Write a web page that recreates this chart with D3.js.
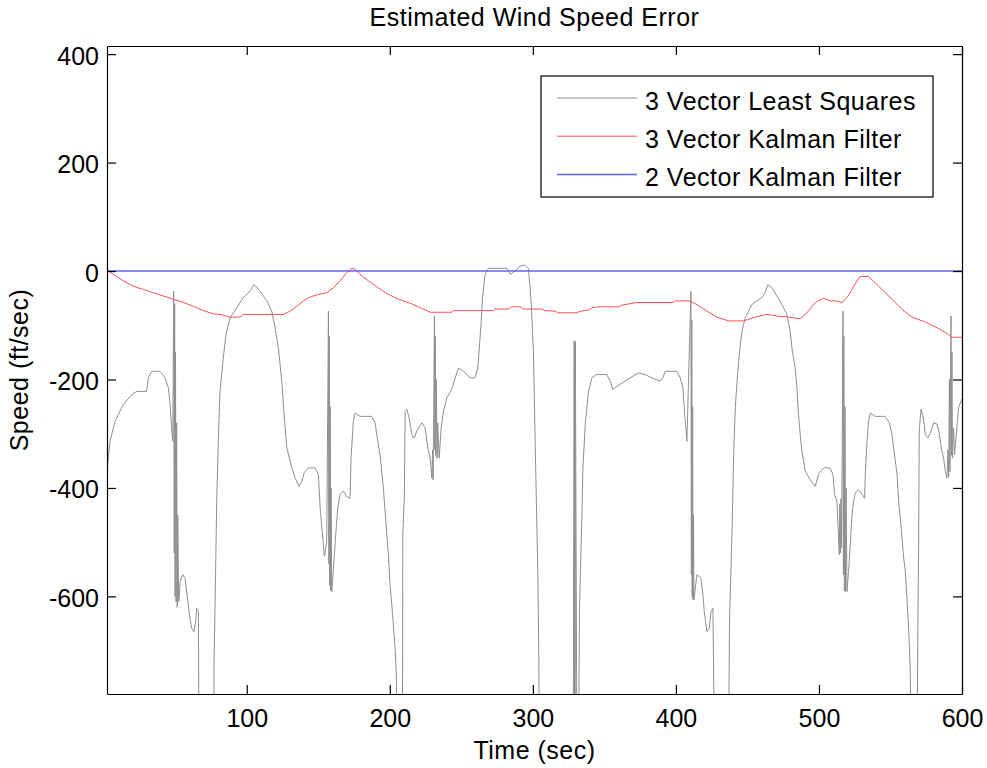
<!DOCTYPE html>
<html lang="en">
  <head>
    <meta charset="utf-8">
    <title>Estimated Wind Speed Error</title>
    <script src="https://cdnjs.cloudflare.com/ajax/libs/d3/7.8.5/d3.min.js"></script>
    <style>
      body {
        margin: 0;
        background: #fff;
      }

      svg {
        font-family: "Liberation Sans", Arial, sans-serif;
      }

      .axis path,
      .axis line {
        fill: none;
        stroke: #000;
        stroke-width: 1.2;
      }

      .axis text {
        font-size: 25px;
        fill: #000;
      }

      .label {
        letter-spacing: 0.5px;
      }
    </style>
  </head>

  <body>
    <script>

      // 3 Vector Least Squares (values below -780 are off the axis)
      var lsTime = [2.5, 4.4, 7.9, 13.7, 19.6, 23, 30, 31.2, 33.5, 39.4, 42.9, 45.2, 46.4, 47.6, 48.3,
        48.9, 49.3, 49.6, 49.9, 50.2, 50.6, 51, 51.4, 51.8, 52.4,
        52.7, 53.4, 55.2, 56.9, 58.5, 60.3, 61.5, 63.1, 64.3, 65, 66.2, 66.6,
        77, 77.1, 78.1, 79, 80.1, 81.3, 83.6, 85.5, 88.3, 93, 97.6, 102.3, 105.1, 109.3, 114, 117.5,
        119.8, 122.1, 124.5, 126.1, 128, 131.5, 133.8, 136.6, 138.5, 140.1, 143.1, 147.8, 150.1,
        151.3, 152.9, 154.3, 155.9,
        157.1, 157.4, 157.7, 158, 158.3, 158.7, 159, 159.4,
        160.6, 162.2, 163.6, 165.2, 167.6, 169.9, 172.2, 172.9, 174.5, 175.7, 179.2, 187.4, 189.7,
        191.6, 193.2, 195.5, 197.2, 199, 200.2, 201.8, 203.7, 204.6, 205.1,
        208.8, 209.1, 210.2, 210.7, 211.9, 213.5, 215.4, 217, 218.9, 222.4, 224.7, 226.6, 228.2, 229.4,
        229.9, 230.3, 231.2, 231.5, 231.8, 232.1, 232.5, 233, 233.5, 234.5,
        235.9, 237.5, 239.9, 243.4, 245.7, 248, 251.5, 256.2, 259.6, 261.5, 262.4, 263.6, 264.8,
        266.6, 269, 281.8, 284.1, 287.6, 291.1, 294.1, 296.9, 298.8, 300.4, 301.6, 303.5, 304.3, 304.6,
        328.2, 328.9, 329.1, 329.3, 329.5, 329.7, 330.8,
        331.9, 332.6, 334.3, 335, 336.6, 338.9, 341.3, 344.3, 351.7, 354.1, 355.9, 361, 368, 373.8,
        378.5, 383.2, 389, 390.9, 392.5, 400.7, 403, 404.9, 405.8, 406.7, 407.7,
        410.5, 410.8, 411.1, 411.4, 411.7, 412, 412.3, 412.6,
        414.7, 417.5, 418.9, 419.8, 421.7, 423.3, 424.5, 425.9, 427,
        436.8, 437.5, 439.2, 440.3, 441.5, 443.1, 444.5, 446.2, 448.5, 450.8, 453.1, 456.6, 460.1,
        462.4, 464.3, 467.1, 470.6, 474.1, 477.6, 479.9, 481.1, 483.4, 484.6, 485.7, 486.9, 488.1,
        490.4, 493.9, 497.4, 499.7, 502.1, 504.4, 507.9, 509.8, 510.9, 512.6, 513.3, 514.2,
        514.6, 515, 515.4, 515.8, 516.1,
        516.8, 517.1, 517.4, 517.8, 518.2, 518.6, 519, 519.6,
        520.7, 521.9, 523.1, 524.2, 525.4, 527.7, 530.1, 531.9, 532.4, 533.6, 534.7, 535.9, 539.4,
        546.4, 549.2, 551.1, 552.2, 554.6, 555.7, 556.9, 558.1, 559.2, 560.4, 561.5, 562.7, 563.8, 564.5,
        568.5, 569.2, 569.7, 570.1, 571.3, 572.5, 573.6, 574.3, 576.2, 578.5, 580.1, 582.5, 584.1,
        585.5, 587.1, 588.3, 589.5,
        590.2, 590.7, 591.2, 591.6, 592.3, 592.6, 593, 593.3,
        594.1, 594.8, 596, 597.6, 600];
      var lsSpeed = [-363, -314, -277, -246, -228, -222, -222, -197, -185, -185, -197, -215, -246, -295, -314,
        -37, -520, -60, -600, -150, -610, -280, -620, -450, -610,
        -606, -573, -560, -566, -603, -640, -659, -665, -646, -622, -628, -900,
        -900, -726, -573, -425, -314, -222, -160, -117, -86, -68, -49, -37, -25, -37, -55, -74,
        -105, -142, -203, -265, -326, -363, -382, -397, -388, -372, -363, -363, -375,
        -437, -486, -526, -499,
        -74, -540, -120, -580, -250, -590, -400, -591,
        -548, -486, -437, -412, -406, -416, -419, -345, -277, -262, -268, -268, -280,
        -314, -339, -400, -462, -523, -579, -628, -696, -745, -900,
        -900, -486, -412, -259, -255, -271, -302, -308, -295, -280, -289, -326, -345, -382,
        -330, -385, -83, -330, -120, -340, -200, -345, -280, -345,
        -289, -259, -234, -218, -197, -179, -185, -197, -197, -179, -148, -105, -49,
        -6, 5, 5, -6, 0, 9, 11, 5, -55, -148, -314, -560, -744, -900,
        -900, -129, -900, -129, -900, -129, -900,
        -900, -622, -449, -363, -283, -222, -197, -191, -191, -203, -218, -209, -197, -188,
        -191, -197, -203, -197, -185, -185, -197, -215, -252, -283, -314,
        -37, -560, -90, -600, -250, -606, -450, -606,
        -560, -566, -597, -628, -665, -659, -628, -622, -900,
        -900, -640, -486, -345, -252, -191, -148, -111, -86, -74, -62, -55, -49,
        -40, -25, -31, -46, -62, -80, -111, -142, -179, -215, -265, -302, -332,
        -369, -385, -397, -375, -366, -362, -364, -375, -412, -425, -468, -523,
        -430, -520, -420, -510, -400,
        -74, -560, -120, -590, -250, -591, -400, -591,
        -554, -505, -449, -425, -409, -403, -412, -419, -375, -314, -277, -262, -268,
        -268, -280, -302, -326, -375, -425, -456, -493, -529, -554, -603, -659, -733, -900,
        -900, -640, -499, -295, -255, -265, -283, -302, -308, -295, -280, -282, -299,
        -326, -345, -369, -382,
        -330, -380, -200, -370, -83, -340, -150, -345,
        -289, -339, -302, -252, -236];

      // 3 Vector Kalman Filter
      var kf3Time = [2.3, 6.7, 13.7, 20.7, 27.7, 34.7, 41.7, 48.7, 55.7, 62.7, 69.7, 76.6, 81.3, 88.3,
        95.3, 97.6, 104.6, 125.6, 130.3, 135, 139.6, 144.3, 150.1, 155.9, 160.6, 165.2, 169.9, 173.4,
        175.7, 179.2, 185, 192, 199, 206, 213, 220, 228.2, 243.4, 244.5, 272.4, 273.6, 282.9, 285.3,
        291.1, 293.4, 306.3, 308.6, 315.6, 317.2, 330.8, 333.1, 338.9, 341.3, 345.9, 359.9, 362.2,
        372.7, 398.3, 399.5, 409.5, 414.7, 421.7, 428.7, 436.8, 447.3, 455.5, 463.6, 470.6, 478.7,
        486.9, 491.6, 497.4, 503.2, 507.9, 511.4, 516.1, 519.6, 523.1, 526.6, 528.9, 534.7, 540.6,
        546.4, 551.1, 558.1, 565, 574.3, 583.6, 590.6, 593, 600];
      var kf3Speed = [2, -6, -18, -28, -34, -40, -46, -52, -58, -65, -73, -79, -80, -85,
        -85, -80, -80, -80, -74, -65, -55, -48, -43, -40, -31, -18, -3, 5,
        3, -6, -18, -31, -43, -52, -58, -66, -76, -76, -73, -73, -70, -70, -66,
        -66, -70, -70, -73, -74, -77, -77, -74, -72, -68, -66, -66, -63,
        -58, -58, -55, -55, -62, -74, -85, -92, -92, -85, -80, -83, -85,
        -88, -77, -58, -50, -55, -55, -58, -49, -34, -18, -10, -10, -25,
        -40, -52, -71, -85, -94, -106, -117, -122, -122];

      // 2 Vector Kalman Filter
      var kf2Time = [2.3, 600];
      var kf2Speed = [0, 0];

      var seriesNames = ["3 Vector Least Squares", "3 Vector Kalman Filter", "2 Vector Kalman Filter"];
      var seriesColors = ["#8f8f8f", "#ff4d4d", "#6464ff"];

      var xTicks = [100, 200, 300, 400, 500, 600];
      var yTicks = [-600, -400, -200, 0, 200, 400];

      //Width and height
      var margin = {top: 46, right: 25, bottom: 74, left: 107},
      w = 987 - margin.left - margin.right,
      h = 768 - margin.top - margin.bottom;

      //Create scale functions
      var xScale = d3.scaleLinear()
                 .domain([2.3, 600])
                 .range([0, w]);

      var yScale = d3.scaleLinear()
                 .domain([-780, 415])
                 .range([h, 0]);

      var svg = d3.select("body")
            .append("svg")
            .attr("width", w + margin.left + margin.right)
            .attr("height", h + margin.top + margin.bottom);

      svg.append("rect")
        .attr("width", 987)
        .attr("height", 768)
        .attr("fill", "#fff");

      var g = svg.append("g")
        .attr("transform", "translate(" + margin.left + "," + margin.top + ")");

      g.append("clipPath")
        .attr("id", "plotclip")
        .append("rect")
        .attr("width", w)
        .attr("height", h);

      var line = d3.line()
        .x(function(d) { return xScale(d[0]); })
        .y(function(d) { return yScale(d[1]); });

      var series = [
        d3.zip(lsTime, lsSpeed),
        d3.zip(kf3Time, kf3Speed),
        d3.zip(kf2Time, kf2Speed)
      ];

      //Draw the lines
      g.append("g")
        .attr("clip-path", "url(#plotclip)")
        .selectAll("path")
        .data(series)
        .enter()
        .append("path")
        .attr("d", line)
        .attr("fill", "none")
        .attr("stroke", function(d, i) { return seriesColors[i]; })
        .attr("stroke-width", function(d, i) { return i == 2 ? 1.5 : 1; })
        .attr("stroke-linejoin", "round");

      // plain hyphen for negative numbers, like the original
      var plain = function(d) { return String(d); };

      //Axes, ticks pointing inward
      g.append("g")
        .attr("class", "axis")
        .attr("transform", "translate(0," + h + ")")
        .call(d3.axisBottom(xScale).tickValues(xTicks).tickFormat(plain)
          .tickSizeInner(-9).tickSizeOuter(0).tickPadding(15));

      g.append("g")
        .attr("class", "axis")
        .call(d3.axisLeft(yScale).tickValues(yTicks).tickFormat(plain)
          .tickSizeInner(-9).tickSizeOuter(0).tickPadding(8))
        .selectAll("text")
        .attr("dy", "0.4em");

      g.append("g")
        .attr("class", "axis")
        .call(d3.axisTop(xScale).tickValues(xTicks).tickSizeInner(-9).tickSizeOuter(0).tickFormat(""));

      g.append("g")
        .attr("class", "axis")
        .attr("transform", "translate(" + w + ",0)")
        .call(d3.axisRight(yScale).tickValues(yTicks).tickSizeInner(-9).tickSizeOuter(0).tickFormat(""));

      //Title and labels
      svg.append("text")
        .attr("class", "label")
        .attr("x", margin.left + w / 2)
        .attr("y", 26)
        .attr("text-anchor", "middle")
        .attr("font-size", "25px")
        .text("Estimated Wind Speed Error");

      svg.append("text")
        .attr("class", "label")
        .attr("x", margin.left + w / 2)
        .attr("y", 759)
        .attr("text-anchor", "middle")
        .attr("font-size", "25px")
        .text("Time (sec)");

      svg.append("text")
        .attr("class", "label")
        .attr("transform", "translate(28," + (margin.top + h / 2) + ") rotate(-90)")
        .attr("text-anchor", "middle")
        .attr("font-size", "25px")
        .text("Speed (ft/sec)");

      //Legend
      var legend = svg.append("g")
        .attr("transform", "translate(541,76)");

      legend.append("rect")
        .attr("width", 392)
        .attr("height", 121)
        .attr("fill", "#fff")
        .attr("stroke", "#000")
        .attr("stroke-width", 1.2);

      var rows = legend.selectAll("g.row")
        .data(seriesNames)
        .enter()
        .append("g")
        .attr("class", "row")
        .attr("transform", function(d, i) { return "translate(0," + (22 + i * 38.2) + ")"; });

      rows.append("line")
        .attr("x1", 16)
        .attr("x2", 96)
        .attr("stroke", function(d, i) { return seriesColors[i]; })
        .attr("stroke-width", function(d, i) { return i == 2 ? 1.5 : 1; });

      rows.append("text")
        .attr("class", "label")
        .attr("x", 104)
        .attr("y", 12)
        .attr("font-size", "25px")
        .text(function(d) { return d; });

    </script>
  </body>
</html>
